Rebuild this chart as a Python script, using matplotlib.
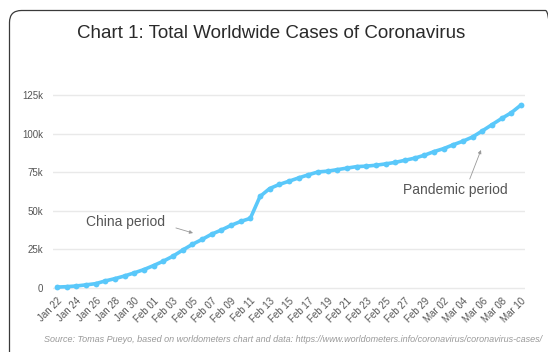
import matplotlib
matplotlib.use("Agg")
import matplotlib.pyplot as plt
from matplotlib.patches import FancyBboxPatch
from matplotlib.transforms import IdentityTransform
from matplotlib.ticker import FuncFormatter, MultipleLocator

plt.rcParams['font.family'] = ['Liberation Sans', 'DejaVu Sans']

# Daily dates, Jan 22 to Mar 10 (2020)
dates = (["Jan %d" % d for d in range(22, 32)]
         + ["Feb %02d" % d for d in range(1, 30)]
         + ["Mar %02d" % d for d in range(1, 11)])

# Cumulative confirmed cases worldwide
cases = [580, 845, 1317, 2015, 2800, 4581, 6058, 7813, 9823, 11950,
         14553, 17391, 20630, 24545, 28266, 31439, 34876, 37552, 40553, 43099,
         45134, 59287, 64438, 67100, 69197, 71329, 73332, 75184, 75700, 76677,
         77673, 78651, 78949, 79556, 80412, 81395, 82755, 84124, 86013, 88371,
         90309, 92844, 95124, 97886, 101800, 105836, 109835, 113582, 118582]

tick_labels = dates[::2]
x = list(range(len(dates)))

W, H, DPI = 548, 352, 100
fig = plt.figure(figsize=(W / DPI, H / DPI), dpi=DPI)
fig.patch.set_facecolor('white')

# rounded frame around the whole card
frame = FancyBboxPatch((9.5, -60), 548, H - 10 + 60 - 0.5,
                       boxstyle="round,pad=0,rounding_size=12",
                       transform=IdentityTransform(), fill=False,
                       edgecolor='#3a3a3a', linewidth=0.9)
fig.patches.append(frame)

ax = fig.add_axes([53 / W, 0.1753, 472 / W, 0.559])
ax.plot(x, cases, color='#5ac8fa', linewidth=2.6, marker='o', markersize=4.2,
        markeredgewidth=0, solid_capstyle='round', zorder=3)

ax.set_xlim(-0.414, 48.414)
ax.set_ylim(-1500, 126000)
ax.yaxis.set_major_locator(MultipleLocator(25000))
ax.yaxis.set_major_formatter(FuncFormatter(lambda v, p: "0" if v == 0 else "%dk" % (v / 1000)))
ax.set_xticks(x[::2])
ax.set_xticklabels(tick_labels, rotation=45, ha='right', rotation_mode='anchor')

ax.grid(axis='y', color='#e9e9e9', linewidth=1.0)
ax.set_axisbelow(True)
for s in ax.spines.values():
    s.set_visible(False)
ax.tick_params(axis='both', length=0, labelsize=7, labelcolor='#555555')
ax.tick_params(axis='y', pad=7.3)
ax.tick_params(axis='x', pad=4)

fig.text(271.5 / W, 1 - 33 / H, "Chart 1: Total Worldwide Cases of Coronavirus",
         ha='center', va='center', fontsize=13.5, color='#2a2a2a')

# period labels with thin pointer arrows
ax.text(7.1, 42700, "China period", fontsize=10, color='#555555',
        ha='center', va='center')
ax.annotate("", xy=(14.07, 35600), xytext=(12.3, 38900),
            arrowprops=dict(arrowstyle='-|>', color='#999999', lw=0.6,
                            mutation_scale=5, shrinkA=0, shrinkB=0))
ax.text(41.2, 63500, "Pandemic period", fontsize=10, color='#555555',
        ha='center', va='center')
ax.annotate("", xy=(43.86, 89400), xytext=(42.7, 70600),
            arrowprops=dict(arrowstyle='-|>', color='#999999', lw=0.6,
                            mutation_scale=5, shrinkA=0, shrinkB=0))

fig.text(293.5 / W, 1 - 340 / H,
         "Source: Tomas Pueyo, based on worldometers chart and data: "
         "https://www.worldometers.info/coronavirus/coronavirus-cases/",
         ha='center', va='center', fontsize=6.45, style='italic', color='#999999')

fig.savefig("out.png", dpi=DPI, facecolor='white')
